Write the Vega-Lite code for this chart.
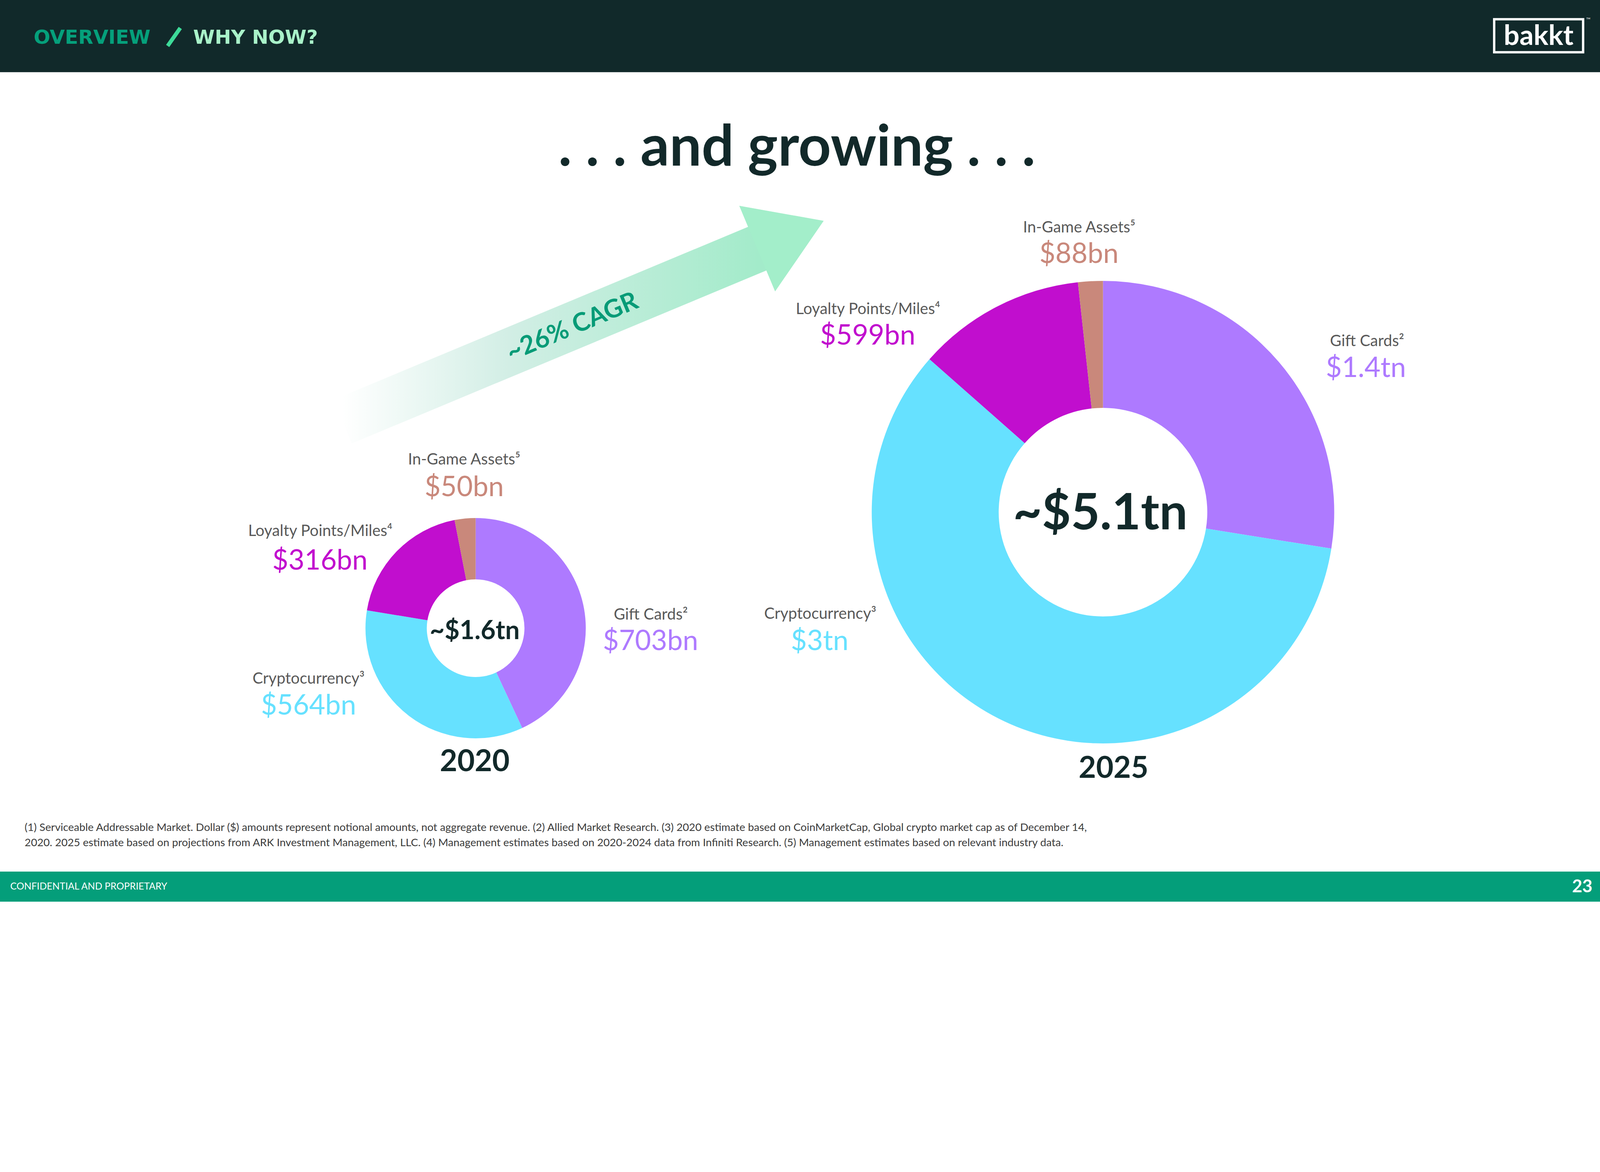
{
  "$schema": "https://vega.github.io/schema/vega-lite/v6.json",
  "width": 4102,
  "height": 2308,
  "autosize": {"type": "fit", "contains": "padding"},
  "padding": 0,
  "background": "#ffffff",
  "config": {"view": {"stroke": null}},
  "data": {
    "values": [
      {"year": 2020, "category": "Gift Cards", "name": "Gift Cards²", "value": 703, "label": "$703bn", "order": 1},
      {"year": 2020, "category": "Cryptocurrency", "name": "Cryptocurrency³", "value": 564, "label": "$564bn", "order": 2},
      {"year": 2020, "category": "Loyalty Points/Miles", "name": "Loyalty Points/Miles⁴", "value": 316, "label": "$316bn", "order": 3},
      {"year": 2020, "category": "In-Game Assets", "name": "In-Game Assets⁵", "value": 50, "label": "$50bn", "order": 4},
      {"year": 2025, "category": "Gift Cards", "name": "Gift Cards²", "value": 1400, "label": "$1.4tn", "order": 1},
      {"year": 2025, "category": "Cryptocurrency", "name": "Cryptocurrency³", "value": 3000, "label": "$3tn", "order": 2},
      {"year": 2025, "category": "Loyalty Points/Miles", "name": "Loyalty Points/Miles⁴", "value": 599, "label": "$599bn", "order": 3},
      {"year": 2025, "category": "In-Game Assets", "name": "In-Game Assets⁵", "value": 88, "label": "$88bn", "order": 4}
    ]
  },
  "layer": [
    {
      "data": {"values": [{}]},
      "mark": {"type": "rect", "color": "#11292A"},
      "encoding": {
        "x": {"datum": 0, "type": "quantitative", "scale": {"domain": [0, 5333], "nice": false, "zero": false}, "axis": null},
        "x2": {"datum": 5333},
        "y": {"datum": 0, "type": "quantitative", "scale": {"domain": [0, 3000], "nice": false, "zero": false, "reverse": true}, "axis": null},
        "y2": {"datum": 240}
      }
    },
    {
      "data": {"values": [{}]},
      "mark": {"type": "rect", "color": "#049E7A"},
      "encoding": {
        "x": {"datum": 0, "type": "quantitative", "axis": null},
        "x2": {"datum": 5333},
        "y": {"datum": 2900, "type": "quantitative", "axis": null},
        "y2": {"datum": 3000}
      }
    },
    {
      "data": {"values": [{}]},
      "mark": {"type": "text", "text": "OVERVIEW", "font": "DejaVu Sans", "fontWeight": "bold", "fontSize": 50, "color": "#05A07B", "align": "left", "baseline": "alphabetic"},
      "encoding": {"x": {"datum": 112, "type": "quantitative", "axis": null}, "y": {"datum": 145, "type": "quantitative", "axis": null}}
    },
    {
      "data": {"values": [{}]},
      "mark": {"type": "rule", "color": "#3DDB99", "strokeWidth": 10, "strokeCap": "butt"},
      "encoding": {
        "x": {"datum": 600, "type": "quantitative", "axis": null},
        "y": {"datum": 93, "type": "quantitative", "axis": null},
        "x2": {"datum": 558},
        "y2": {"datum": 153}
      }
    },
    {
      "data": {"values": [{}]},
      "mark": {"type": "text", "text": "WHY NOW?", "font": "DejaVu Sans", "fontWeight": "bold", "fontSize": 50, "color": "#A9F2C9", "align": "left", "baseline": "alphabetic"},
      "encoding": {"x": {"datum": 643, "type": "quantitative", "axis": null}, "y": {"datum": 145, "type": "quantitative", "axis": null}}
    },
    {
      "data": {"values": [{}]},
      "mark": {"type": "rect", "fill": null, "filled": false, "stroke": "#ffffff", "strokeWidth": 6},
      "encoding": {
        "x": {"datum": 4973, "type": "quantitative", "axis": null},
        "x2": {"datum": 5269},
        "y": {"datum": 64, "type": "quantitative", "axis": null},
        "y2": {"datum": 174}
      }
    },
    {
      "data": {"values": [{}]},
      "mark": {"type": "text", "text": "bakkt", "font": "Lato", "fontWeight": "bold", "fontSize": 71, "color": "#ffffff", "align": "center", "baseline": "alphabetic"},
      "encoding": {"x": {"datum": 5121, "type": "quantitative", "axis": null}, "y": {"datum": 150, "type": "quantitative", "axis": null}}
    },
    {
      "data": {"values": [{}]},
      "mark": {"type": "text", "text": "™", "font": "Lato", "fontSize": 15, "color": "#dddddd", "align": "left", "baseline": "middle"},
      "encoding": {"x": {"datum": 5279, "type": "quantitative", "axis": null}, "y": {"datum": 66, "type": "quantitative", "axis": null}}
    },
    {
      "data": {"values": [{}]},
      "mark": {"type": "text", "text": ". . . and growing . . .", "font": "Lato", "fontWeight": "bold", "fontSize": 146, "color": "#12292A", "align": "center", "baseline": "alphabetic"},
      "encoding": {"x": {"datum": 2652, "type": "quantitative", "axis": null}, "y": {"datum": 551, "type": "quantitative", "axis": null}}
    },
    {
      "data": {"values": [{}]},
      "mark": {
        "type": "rule",
        "strokeWidth": 121,
        "strokeCap": "butt",
        "stroke": {
          "gradient": "linear", "x1": 0, "y1": 0, "x2": 1, "y2": 0,
          "stops": [
            {"offset": 0, "color": "#ffffff"},
            {"offset": 0.4, "color": "#D2EEE5"},
            {"offset": 1, "color": "#A3EBCA"}
          ]
        }
      },
      "encoding": {
        "x": {"datum": 1140, "type": "quantitative", "axis": null},
        "y": {"datum": 1403, "type": "quantitative", "axis": null},
        "x2": {"datum": 2526},
        "y2": {"datum": 825}
      }
    },
    {
      "data": {"values": [{}]},
      "mark": {"type": "point", "shape": "M-0.02,-0.966L1.48,0L-0.02,0.966Z", "size": 60590, "filled": true, "color": "#A3EECA", "opacity": 1, "angle": 337.3, "strokeWidth": 0},
      "encoding": {"x": {"datum": 2523, "type": "quantitative", "axis": null}, "y": {"datum": 826, "type": "quantitative", "axis": null}}
    },
    {
      "data": {"values": [{}]},
      "mark": {"type": "text", "text": "~26% CAGR", "font": "Lato", "fontWeight": "bold", "fontSize": 65, "color": "#079B77", "align": "center", "baseline": "middle", "angle": 337.3},
      "encoding": {"x": {"datum": 1905, "type": "quantitative", "axis": null}, "y": {"datum": 1088, "type": "quantitative", "axis": null}}
    },
    {
      "transform": [{"filter": "datum.year == 2020"}],
      "mark": {"type": "arc", "radius": 282, "radius2": 125},
      "encoding": {
        "x": {"datum": 1583, "type": "quantitative", "axis": null},
        "y": {"datum": 2090, "type": "quantitative", "axis": null},
        "theta": {"field": "value", "type": "quantitative", "stack": "normalize"},
        "order": {"field": "order", "type": "quantitative"},
        "color": {
          "field": "category", "type": "nominal", "legend": null,
          "scale": {"domain": ["Gift Cards", "Cryptocurrency", "Loyalty Points/Miles", "In-Game Assets"], "range": ["#AE7AFF", "#66E1FF", "#C10ECE", "#C9887B"]}
        }
      }
    },
    {
      "transform": [{"filter": "datum.year == 2025"}],
      "mark": {"type": "arc", "radius": 592, "radius2": 267},
      "encoding": {
        "x": {"datum": 3671, "type": "quantitative", "axis": null},
        "y": {"datum": 1704, "type": "quantitative", "axis": null},
        "theta": {"field": "value", "type": "quantitative", "stack": "normalize"},
        "order": {"field": "order", "type": "quantitative"},
        "color": {"field": "category", "type": "nominal", "legend": null}
      }
    },
    {
      "data": {"values": [{}]},
      "mark": {"type": "text", "text": "~$1.6tn", "font": "Lato", "fontWeight": "bold", "fontSize": 66, "color": "#12292A", "align": "center", "baseline": "middle"},
      "encoding": {"x": {"datum": 1580, "type": "quantitative", "axis": null}, "y": {"datum": 2100, "type": "quantitative", "axis": null}}
    },
    {
      "data": {"values": [{}]},
      "mark": {"type": "text", "text": "~$5.1tn", "font": "Lato", "fontWeight": "bold", "fontSize": 128, "color": "#12292A", "align": "center", "baseline": "middle"},
      "encoding": {"x": {"datum": 3662, "type": "quantitative", "axis": null}, "y": {"datum": 1712, "type": "quantitative", "axis": null}}
    },
    {
      "data": {"values": [{}]},
      "mark": {"type": "text", "text": "2020", "font": "Lato", "fontWeight": "bold", "fontSize": 77, "color": "#12292A", "align": "center", "baseline": "middle"},
      "encoding": {"x": {"datum": 1580, "type": "quantitative", "axis": null}, "y": {"datum": 2536, "type": "quantitative", "axis": null}}
    },
    {
      "data": {"values": [{}]},
      "mark": {"type": "text", "text": "2025", "font": "Lato", "fontWeight": "bold", "fontSize": 77, "color": "#12292A", "align": "center", "baseline": "middle"},
      "encoding": {"x": {"datum": 3706, "type": "quantitative", "axis": null}, "y": {"datum": 2558, "type": "quantitative", "axis": null}}
    },
    {
      "transform": [{"filter": "datum.year == 2020 && datum.category == 'Gift Cards'"}],
      "mark": {"type": "text", "font": "Lato", "fontSize": 40, "color": "#595959", "align": "center", "baseline": "middle"},
      "encoding": {"x": {"datum": 2166, "type": "quantitative", "axis": null}, "y": {"datum": 2046, "type": "quantitative", "axis": null}, "text": {"field": "name"}}
    },
    {
      "transform": [{"filter": "datum.year == 2020 && datum.category == 'Gift Cards'"}],
      "mark": {"type": "text", "font": "Lato", "fontSize": 71, "align": "center", "baseline": "middle"},
      "encoding": {"x": {"datum": 2165, "type": "quantitative", "axis": null}, "y": {"datum": 2136, "type": "quantitative", "axis": null}, "text": {"field": "label"}, "color": {"field": "category", "type": "nominal", "legend": null}}
    },
    {
      "transform": [{"filter": "datum.year == 2020 && datum.category == 'Cryptocurrency'"}],
      "mark": {"type": "text", "font": "Lato", "fontSize": 40, "color": "#595959", "align": "center", "baseline": "middle"},
      "encoding": {"x": {"datum": 1027, "type": "quantitative", "axis": null}, "y": {"datum": 2259, "type": "quantitative", "axis": null}, "text": {"field": "name"}}
    },
    {
      "transform": [{"filter": "datum.year == 2020 && datum.category == 'Cryptocurrency'"}],
      "mark": {"type": "text", "font": "Lato", "fontSize": 71, "align": "center", "baseline": "middle"},
      "encoding": {"x": {"datum": 1027, "type": "quantitative", "axis": null}, "y": {"datum": 2350, "type": "quantitative", "axis": null}, "text": {"field": "label"}, "color": {"field": "category", "type": "nominal", "legend": null}}
    },
    {
      "transform": [{"filter": "datum.year == 2020 && datum.category == 'Loyalty Points/Miles'"}],
      "mark": {"type": "text", "font": "Lato", "fontSize": 40, "color": "#595959", "align": "center", "baseline": "middle"},
      "encoding": {"x": {"datum": 1066, "type": "quantitative", "axis": null}, "y": {"datum": 1768, "type": "quantitative", "axis": null}, "text": {"field": "name"}}
    },
    {
      "transform": [{"filter": "datum.year == 2020 && datum.category == 'Loyalty Points/Miles'"}],
      "mark": {"type": "text", "font": "Lato", "fontSize": 71, "align": "center", "baseline": "middle"},
      "encoding": {"x": {"datum": 1065, "type": "quantitative", "axis": null}, "y": {"datum": 1868, "type": "quantitative", "axis": null}, "text": {"field": "label"}, "color": {"field": "category", "type": "nominal", "legend": null}}
    },
    {
      "transform": [{"filter": "datum.year == 2020 && datum.category == 'In-Game Assets'"}],
      "mark": {"type": "text", "font": "Lato", "fontSize": 40, "color": "#595959", "align": "center", "baseline": "middle"},
      "encoding": {"x": {"datum": 1545, "type": "quantitative", "axis": null}, "y": {"datum": 1530, "type": "quantitative", "axis": null}, "text": {"field": "name"}}
    },
    {
      "transform": [{"filter": "datum.year == 2020 && datum.category == 'In-Game Assets'"}],
      "mark": {"type": "text", "font": "Lato", "fontSize": 71, "align": "center", "baseline": "middle"},
      "encoding": {"x": {"datum": 1545, "type": "quantitative", "axis": null}, "y": {"datum": 1623, "type": "quantitative", "axis": null}, "text": {"field": "label"}, "color": {"field": "category", "type": "nominal", "legend": null}}
    },
    {
      "transform": [{"filter": "datum.year == 2025 && datum.category == 'Gift Cards'"}],
      "mark": {"type": "text", "font": "Lato", "fontSize": 40, "color": "#595959", "align": "center", "baseline": "middle"},
      "encoding": {"x": {"datum": 4550, "type": "quantitative", "axis": null}, "y": {"datum": 1136, "type": "quantitative", "axis": null}, "text": {"field": "name"}}
    },
    {
      "transform": [{"filter": "datum.year == 2025 && datum.category == 'Gift Cards'"}],
      "mark": {"type": "text", "font": "Lato", "fontSize": 71, "align": "center", "baseline": "middle"},
      "encoding": {"x": {"datum": 4546, "type": "quantitative", "axis": null}, "y": {"datum": 1227, "type": "quantitative", "axis": null}, "text": {"field": "label"}, "color": {"field": "category", "type": "nominal", "legend": null}}
    },
    {
      "transform": [{"filter": "datum.year == 2025 && datum.category == 'Cryptocurrency'"}],
      "mark": {"type": "text", "font": "Lato", "fontSize": 40, "color": "#595959", "align": "center", "baseline": "middle"},
      "encoding": {"x": {"datum": 2730, "type": "quantitative", "axis": null}, "y": {"datum": 2043, "type": "quantitative", "axis": null}, "text": {"field": "name"}}
    },
    {
      "transform": [{"filter": "datum.year == 2025 && datum.category == 'Cryptocurrency'"}],
      "mark": {"type": "text", "font": "Lato", "fontSize": 71, "align": "center", "baseline": "middle"},
      "encoding": {"x": {"datum": 2728, "type": "quantitative", "axis": null}, "y": {"datum": 2135, "type": "quantitative", "axis": null}, "text": {"field": "label"}, "color": {"field": "category", "type": "nominal", "legend": null}}
    },
    {
      "transform": [{"filter": "datum.year == 2025 && datum.category == 'Loyalty Points/Miles'"}],
      "mark": {"type": "text", "font": "Lato", "fontSize": 40, "color": "#595959", "align": "center", "baseline": "middle"},
      "encoding": {"x": {"datum": 2889, "type": "quantitative", "axis": null}, "y": {"datum": 1030, "type": "quantitative", "axis": null}, "text": {"field": "name"}}
    },
    {
      "transform": [{"filter": "datum.year == 2025 && datum.category == 'Loyalty Points/Miles'"}],
      "mark": {"type": "text", "font": "Lato", "fontSize": 71, "align": "center", "baseline": "middle"},
      "encoding": {"x": {"datum": 2888, "type": "quantitative", "axis": null}, "y": {"datum": 1119, "type": "quantitative", "axis": null}, "text": {"field": "label"}, "color": {"field": "category", "type": "nominal", "legend": null}}
    },
    {
      "transform": [{"filter": "datum.year == 2025 && datum.category == 'In-Game Assets'"}],
      "mark": {"type": "text", "font": "Lato", "fontSize": 40, "color": "#595959", "align": "center", "baseline": "middle"},
      "encoding": {"x": {"datum": 3592, "type": "quantitative", "axis": null}, "y": {"datum": 758, "type": "quantitative", "axis": null}, "text": {"field": "name"}}
    },
    {
      "transform": [{"filter": "datum.year == 2025 && datum.category == 'In-Game Assets'"}],
      "mark": {"type": "text", "font": "Lato", "fontSize": 71, "align": "center", "baseline": "middle"},
      "encoding": {"x": {"datum": 3591, "type": "quantitative", "axis": null}, "y": {"datum": 847, "type": "quantitative", "axis": null}, "text": {"field": "label"}, "color": {"field": "category", "type": "nominal", "legend": null}}
    },
    {
      "data": {"values": [{}]},
      "mark": {"type": "text", "text": "(1) Serviceable Addressable Market. Dollar ($) amounts represent notional amounts, not aggregate revenue. (2) Allied Market Research. (3) 2020 estimate based on CoinMarketCap, Global crypto market cap as of December 14,", "font": "Lato", "fontSize": 27.7, "color": "#3b3b3b", "align": "left", "baseline": "middle"},
      "encoding": {"x": {"datum": 82, "type": "quantitative", "axis": null}, "y": {"datum": 2754, "type": "quantitative", "axis": null}}
    },
    {
      "data": {"values": [{}]},
      "mark": {"type": "text", "text": "2020. 2025 estimate based on projections from ARK Investment Management, LLC. (4) Management estimates based on 2020-2024 data from Infiniti Research. (5) Management estimates based on relevant industry data.", "font": "Lato", "fontSize": 27.7, "color": "#3b3b3b", "align": "left", "baseline": "middle"},
      "encoding": {"x": {"datum": 82, "type": "quantitative", "axis": null}, "y": {"datum": 2805, "type": "quantitative", "axis": null}}
    },
    {
      "data": {"values": [{}]},
      "mark": {"type": "text", "text": "CONFIDENTIAL AND PROPRIETARY", "font": "Lato", "fontSize": 24.5, "color": "#ffffff", "align": "left", "baseline": "middle"},
      "encoding": {"x": {"datum": 34, "type": "quantitative", "axis": null}, "y": {"datum": 2951, "type": "quantitative", "axis": null}}
    },
    {
      "data": {"values": [{}]},
      "mark": {"type": "text", "text": "23", "font": "Lato", "fontWeight": "bold", "fontSize": 45, "color": "#ffffff", "align": "right", "baseline": "middle"},
      "encoding": {"x": {"datum": 5300, "type": "quantitative", "axis": null}, "y": {"datum": 2950, "type": "quantitative", "axis": null}}
    }
  ]
}
